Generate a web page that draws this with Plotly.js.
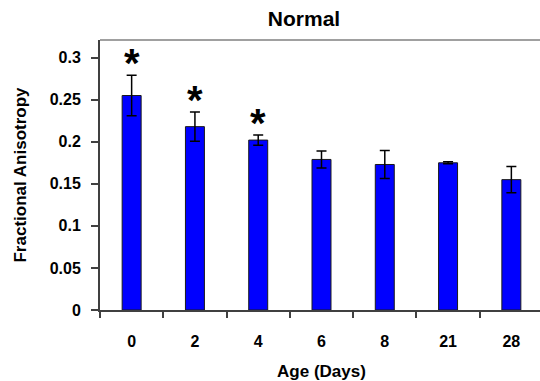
<!DOCTYPE html>
<html>
<head>
<meta charset="utf-8">
<script src="https://cdn.plot.ly/plotly-3.0.1.min.js"></script>
<style>
html,body{margin:0;padding:0;background:#fff;overflow:hidden;}
#chart{width:543px;height:381px;}
</style>
</head>
<body>
<div id="chart"></div>
<script>
const categories = ["0", "2", "4", "6", "8", "21", "28"];
const faMean = [0.255, 0.218, 0.202, 0.179, 0.173, 0.175, 0.155];
const faErr = [0.024, 0.0175, 0.006, 0.0101, 0.0166, 0.0012, 0.0155];
const significance = ["*", "*", "*", "", "", "", ""];
const yTicks = [0, 0.05, 0.1, 0.15, 0.2, 0.25, 0.3];
const yTickLabels = ["0", "0.05", "0.1", "0.15", "0.2", "0.25", "0.3"];

const FONT = "Liberation Sans, Arial, sans-serif";

const trace = {
  type: "bar",
  x: categories,
  y: faMean,
  width: 0.3,
  marker: {color: "#0000FF", line: {color: "#1a1a1a", width: 1}},
  error_y: {type: "data", array: faErr, visible: true, color: "#000000", thickness: 1.5, width: 5},
  hoverinfo: "skip"
};

const annotations = [];
categories.forEach((c, i) => {
  if (significance[i]) {
    annotations.push({
      x: i, y: faMean[i] + faErr[i], xref: "x", yref: "y",
      text: significance[i], showarrow: false,
      yanchor: "middle", yshift: 12,
      font: {family: FONT, size: 40, color: "#000", weight: "bold"}
    });
  }
});

const layout = {
  width: 543, height: 381,
  margin: {l: 100, r: 0, t: 40, b: 71},
  paper_bgcolor: "#ffffff", plot_bgcolor: "#ffffff",
  showlegend: false,
  bargap: 0.7,
  title: {text: "Normal", font: {family: FONT, size: 21, color: "#000", weight: "bold"}, x: 304/543, xanchor: "center", xref: "container", y: 1 - 19/381, yanchor: "middle", yref: "container"},
  xaxis: {
    type: "category", range: [-0.5, 6.5],
    showline: true, linecolor: "#404040", linewidth: 2,
    ticks: "outside", tickson: "boundaries", ticklen: 6, tickwidth: 2, tickcolor: "#404040",
    showgrid: false, zeroline: false,
    tickfont: {family: FONT, size: 16, color: "#000", weight: "bold"},
    ticklabelstandoff: 16,
    title: {text: "Age (Days)", font: {family: FONT, size: 17, color: "#000", weight: "bold"}, standoff: 17}
  },
  yaxis: {
    range: [0, 0.321],
    tickvals: yTicks, ticktext: yTickLabels,
    showline: true, linecolor: "#404040", linewidth: 2,
    ticks: "outside", ticklen: 7, tickwidth: 2, tickcolor: "#404040",
    showgrid: false, zeroline: false,
    tickfont: {family: FONT, size: 16, color: "#000", weight: "bold"},
    ticklabelstandoff: 7,
    title: {text: "Fractional Anisotropy", font: {family: FONT, size: 17, color: "#000", weight: "bold"}, standoff: 19}
  },
  annotations: annotations,
  shapes: [{type: "line", xref: "paper", yref: "paper", x0: 0, x1: 1, y0: 1, y1: 1, line: {color: "#a0a0a0", width: 2}}]
};

Plotly.newPlot("chart", [trace], layout, {displayModeBar: false, staticPlot: true});
</script>
</body>
</html>
